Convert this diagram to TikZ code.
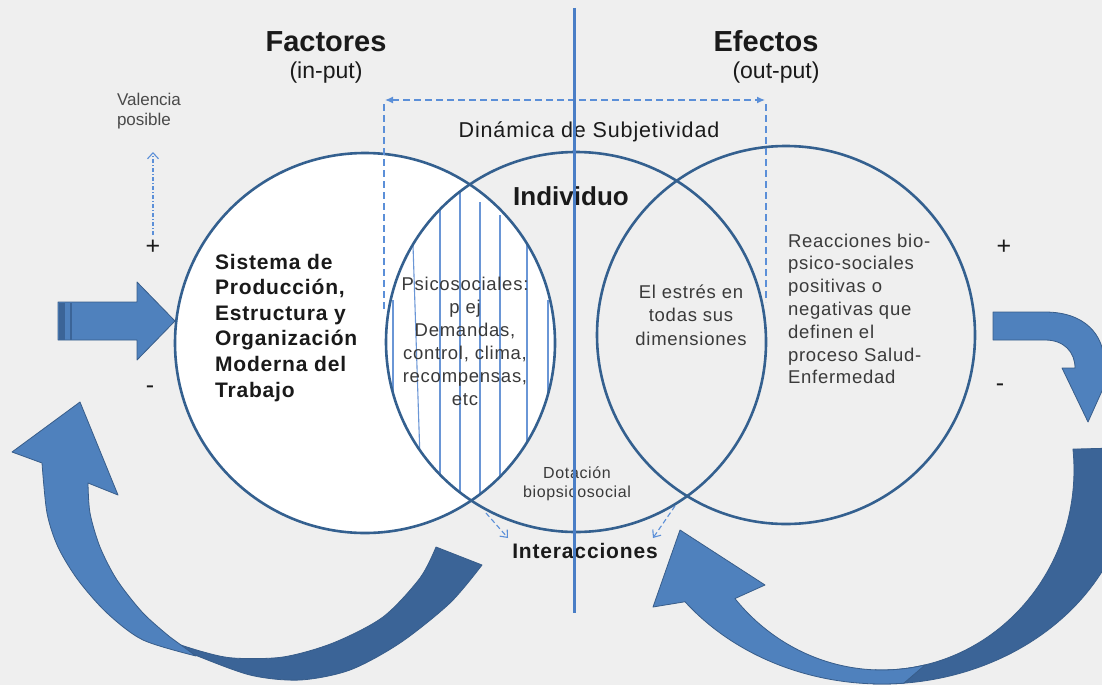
\documentclass[tikz,border=0pt]{standalone}
\usepackage{fontspec}
\setmainfont{Liberation Sans}
\newfontfamily\ls[LetterSpace=4]{Liberation Sans}
\usetikzlibrary{arrows.meta}
\definecolor{bgc}{HTML}{EFEFEF}
\definecolor{arrowlight}{HTML}{4F81BD}
\definecolor{arrowdark}{HTML}{3B6497}
\definecolor{arrowedge}{HTML}{385D8A}
\definecolor{circc}{HTML}{34608F}
\definecolor{vlinec}{HTML}{4A7EC6}
\definecolor{dashc}{HTML}{5B8FD8}
\definecolor{hatchc}{HTML}{6A96D6}
\definecolor{txt}{HTML}{1A1A1A}
\definecolor{txtg}{HTML}{3A3A3A}
\definecolor{txtl}{HTML}{4A4A4A}
\newcommand{\mlines}[2]{\begin{tabular}[t]{@{}#1@{}}#2\end{tabular}}
\begin{document}
\begin{tikzpicture}[x=1pt,y=-1pt,
  circ/.style={circle, draw=circc, line width=2.6pt, inner sep=0pt, outer sep=0pt, minimum size=380pt},
  hatch/.style={draw=hatchc, line width=1.1pt},
  lbl/.style={inner sep=0pt, outer sep=0pt, text=txt},
  lblg/.style={inner sep=0pt, outer sep=0pt, text=txtg},
  light/.style={fill=arrowlight, draw=arrowedge, line width=0.8pt, line join=round},
  dark/.style={fill=arrowdark, draw=arrowedge, line width=0.8pt, line join=round},
  dashline/.style={draw=dashc, line width=1.3pt, dash pattern=on 7pt off 4pt},
  smalldash/.style={draw=dashc, line width=1.1pt, dash pattern=on 5pt off 3pt, -{Straight Barb[length=6pt,width=10pt]}},
  dotarrow/.style={draw=dashc, line width=1.1pt, dash pattern=on 4pt off 2pt on 1pt off 2pt, -{Straight Barb[length=6pt,width=11pt]}}
]
\useasboundingbox (0,0) rectangle (1102,685);
\clip (0,0) rectangle (1102,685);
\fill[bgc] (0,0) rectangle (1102,685);

% ---- lower-left curved arrow
\path[dark] (436,547) -- (482,565)
  -- plot[smooth] coordinates {(482,565) (450,603) (400,643) (350,670) (300,680) (250,675) (190,653) (160,640)}
  -- plot[smooth] coordinates {(160,638) (200,651) (233,658) (283,657) (333,643) (383,617) (420,578) (436,547)} -- cycle;
\path[light] (80,402) -- (118,495) -- (88,483)
  -- plot[smooth] coordinates {(88,483) (90,513) (100,547) (117,580) (143,613) (170,637)}
  -- (196,656)
  -- plot[smooth] coordinates {(196,656) (143,640) (107,613) (78,580) (58,547) (47,513) (42,463)}
  -- (12,452) -- cycle;

% ---- lower-right curved arrow (ellipse bands around (882,470))
\path[dark] plot[domain=-6:92,samples=60] ({882+250*cos(\x)},{470+214*sin(\x)})
  -- plot[domain=92:-6,samples=60] ({882+192*cos(\x)},{470+200*sin(\x)}) -- cycle;
\path[light] (680,530) -- (765,585) -- ({882+192*cos(140)},{470+200*sin(140)})
  -- plot[domain=140:77,samples=50] ({882+192*cos(\x)},{470+200*sin(\x)})
  -- ({882+250*cos(85)},{470+214*sin(85)})
  -- plot[domain=85:142,samples=50] ({882+250*cos(\x)},{470+214*sin(\x)})
  -- (653,607) -- cycle;

% ---- top-right bent arrow
\path[light] (993,312) -- (1045,312) .. controls (1085,312) and (1104,335) .. (1104,362)
  -- (1115,362) -- (1088,422) -- (1062,368) -- (1075,368)
  .. controls (1075,352) and (1064,340) .. (1045,340) -- (993,340) -- cycle;

% ---- striped right arrow
\path[light] (58,302) -- (137,302) -- (137,282) -- (175,321) -- (137,360) -- (137,340) -- (58,340) -- cycle;
\fill[arrowdark] (58.5,302.5) rectangle (65,339.5);
\draw[arrowdark, line width=1.6pt] (71,302.5) -- (71,339.5);

% ---- circles
\fill[white] (365,343) circle[radius=190];
\begin{scope}
  \clip (365,343) circle[radius=190];
  \clip (576,342) circle[radius=190];
  \draw[hatch] (393,300) -- (393,520);
  \draw[hatch] (413,245) -- (422,520);
  \draw[hatch] (440,150) -- (440,560);
  \draw[hatch] (460,150) -- (460,560);
  \draw[hatch] (480,202) -- (480,560);
  \draw[hatch] (500,215) -- (500,560);
  \draw[hatch] (527,222) -- (527,448);
  \draw[hatch] (548,300) -- (548,420);
\end{scope}
\node[circ] (L) at (365,343) {};
\node[circ] (M) at (576,342) {};
\node[circ, minimum size=378pt] (R) at (786,335) {};

% ---- headings
\node[lbl, anchor=base, font=\bfseries\fontsize{29}{33}\selectfont] (fac) at (326,52) {Factores};
\node[lbl, anchor=base, font=\fontsize{23}{27}\selectfont] (inp) at (326,78) {(in-put)};
\node[lbl, anchor=base, font=\bfseries\fontsize{29}{33}\selectfont] (efe) at (766,52) {Efectos};
\node[lbl, anchor=base, font=\fontsize{23}{27}\selectfont] (outp) at (776,78) {(out-put)};

\node[lbl, text=txtl, anchor=base west, font=\fontsize{17}{20}\selectfont] (val) at (117,105) {\mlines{l}{Valencia\\posible}};
\coordinate (va1) at (153,235);
\coordinate (va2) at (153,152);
\draw[dotarrow] (va1) -- (va2);

\node[lbl, font=\fontsize{25}{28}\selectfont] (pl1) at (153,247) {+};
\node[lbl, font=\fontsize{25}{28}\selectfont] (mi1) at (150,390) {-};
\node[lbl, font=\fontsize{25}{28}\selectfont] (pl2) at (1004,247) {+};
\node[lbl, font=\fontsize{25}{28}\selectfont] (mi2) at (1000,388) {-};

\node[lbl, anchor=base, font=\ls\fontsize{21.5}{25}\selectfont] (din) at (589,137) {Dinámica de Subjetividad};
\node[lbl, anchor=base, font=\bfseries\fontsize{26}{30}\selectfont] (ind) at (571,205) {Individuo};

\node[lbl, anchor=base west, font=\ls\bfseries\fontsize{21}{25.6}\selectfont] (sis) at (215,269)
  {\mlines{l}{Sistema de\\Producción,\\Estructura y\\Organización\\Moderna del\\Trabajo}};

\node[lblg, anchor=base, font=\ls\fontsize{18.5}{23}\selectfont] (psi) at (465,290)
  {\mlines{c}{Psicosociales:\\p ej\\Demandas,\\control, clima,\\recompensas,\\etc}};

\node[lblg, anchor=base, font=\ls\fontsize{18.5}{23.5}\selectfont] (est) at (691,298)
  {\mlines{c}{El estrés en\\todas sus\\dimensiones}};

\node[lblg, anchor=base west, font=\ls\fontsize{18.5}{22.8}\selectfont] (rea) at (788,247)
  {\mlines{l}{Reacciones bio-\\psico-sociales\\positivas o\\negativas que\\definen el\\proceso Salud-\\Enfermedad}};

\node[lblg, anchor=base, font=\ls\fontsize{16}{19}\selectfont] (dot) at (577,478)
  {\mlines{c}{Dotación\\biopsicosocial}};

\node[lbl, anchor=base, font=\ls\bfseries\fontsize{21}{25}\selectfont] (int) at (585,558) {Interacciones};

% ---- dashed bracket
\coordinate (bTL) at (385,100);
\coordinate (bTR) at (765,100);
\coordinate (bBL) at (384,310);
\coordinate (bBR) at (766,302);
\draw[dashline, {Latex[length=8pt,width=7pt]}-{Latex[length=8pt,width=7pt]}] (bTL) -- (bTR);
\draw[dashline] (384,104) -- (bBL);
\draw[dashline] (766,104) -- (bBR);

% ---- small dashed arrows
\coordinate (sa1) at (486,513);
\coordinate (sa1e) at (508,538);
\coordinate (sa2) at (675,506);
\coordinate (sa2e) at (653,538);
\draw[smalldash] (sa1) -- (sa1e);
\draw[smalldash] (sa2) -- (sa2e);

% ---- vertical line
\coordinate (vt) at (574.5,8);
\coordinate (vb) at (574.5,613);
\draw[vlinec, line width=3.3pt] (vt) -- (vb);
\end{tikzpicture}
\end{document}
